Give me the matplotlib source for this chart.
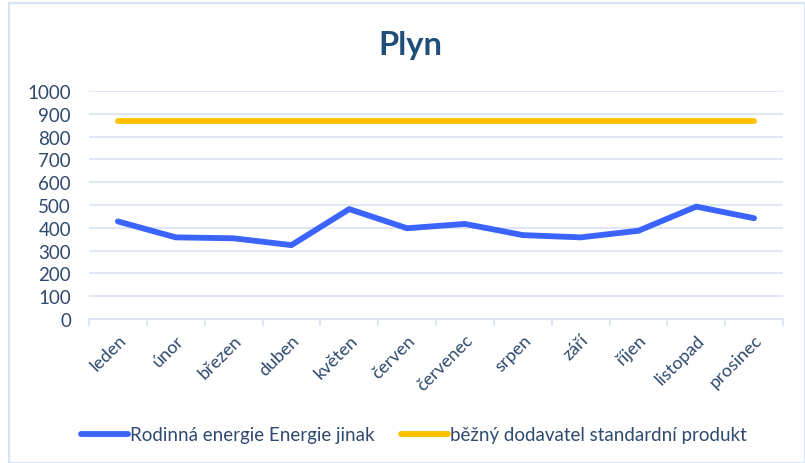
import matplotlib
matplotlib.use("Agg")
import matplotlib.pyplot as plt
from matplotlib.patches import Rectangle
import numpy as np

months = ["leden", "únor", "březen", "duben", "květen", "červen", "červenec",
          "srpen", "září", "říjen", "listopad", "prosinec"]
rodinna = [428, 358, 354, 324, 482, 398, 417, 368, 358, 387, 493, 442]
bezny = [868] * 12
yticks = list(range(0, 1001, 100))

W, H = 805, 464
fig = plt.figure(figsize=(W / 100, H / 100), dpi=100)
plt.rcParams['font.family'] = ['Lato', 'DejaVu Sans']

ax = fig.add_axes([89 / W, 1 - 320 / H, (783 - 89) / W, (320 - 92) / H])

x = np.arange(len(months))
ax.plot(x, rodinna, color="#3B64FF", lw=4.2, solid_capstyle="round", solid_joinstyle="round",
        label="Rodinná energie Energie jinak")
ax.plot(x, bezny, color="#FFC000", lw=4.2, solid_capstyle="round",
        label="běžný dodavatel standardní produkt")

ax.set_xlim(-0.5, len(months) - 0.5)
ax.set_ylim(0, 1000)
ax.set_yticks(yticks)
ax.yaxis.grid(True, color="#D9E2F3", lw=1.2)
ax.set_axisbelow(True)
for s in ["top", "right", "left"]:
    ax.spines[s].set_visible(False)
ax.spines["bottom"].set_color("#D9E2F3")
ax.spines["bottom"].set_linewidth(1.2)
ax.tick_params(axis="y", length=0, labelsize=13.5, labelcolor="#2F4A6E", pad=13)

ax.set_xticks(x)
ax.set_xticklabels(months, rotation=45, ha="right", rotation_mode="anchor",
                   fontsize=13, color="#2F4A6E")
ax.tick_params(axis="x", length=0, pad=9)
ax.set_xticks(np.arange(-0.5, len(months), 1), minor=True)
ax.tick_params(axis="x", which="minor", length=5, color="#D9E2F3", width=1.2)

fig.text(410 / W, 1 - 45 / H, "Plyn", ha="center", va="center", fontsize=23.5,
         fontweight="bold", color="#1F4E79")

leg = fig.legend(loc="center", bbox_to_anchor=(414 / W, 1 - 436 / H), ncol=2, frameon=False,
                 fontsize=13.5, handlelength=2.5, handletextpad=0.12, columnspacing=1.4)
for t in leg.get_texts():
    t.set_color("#2F4A6E")

fig.patches.append(Rectangle((9 / W, 0), (W - 9) / W, 1 - 4 / H, transform=fig.transFigure,
                             fill=False, edgecolor="#D6E4F5", lw=1.5))

fig.savefig("out.png", dpi=100)
